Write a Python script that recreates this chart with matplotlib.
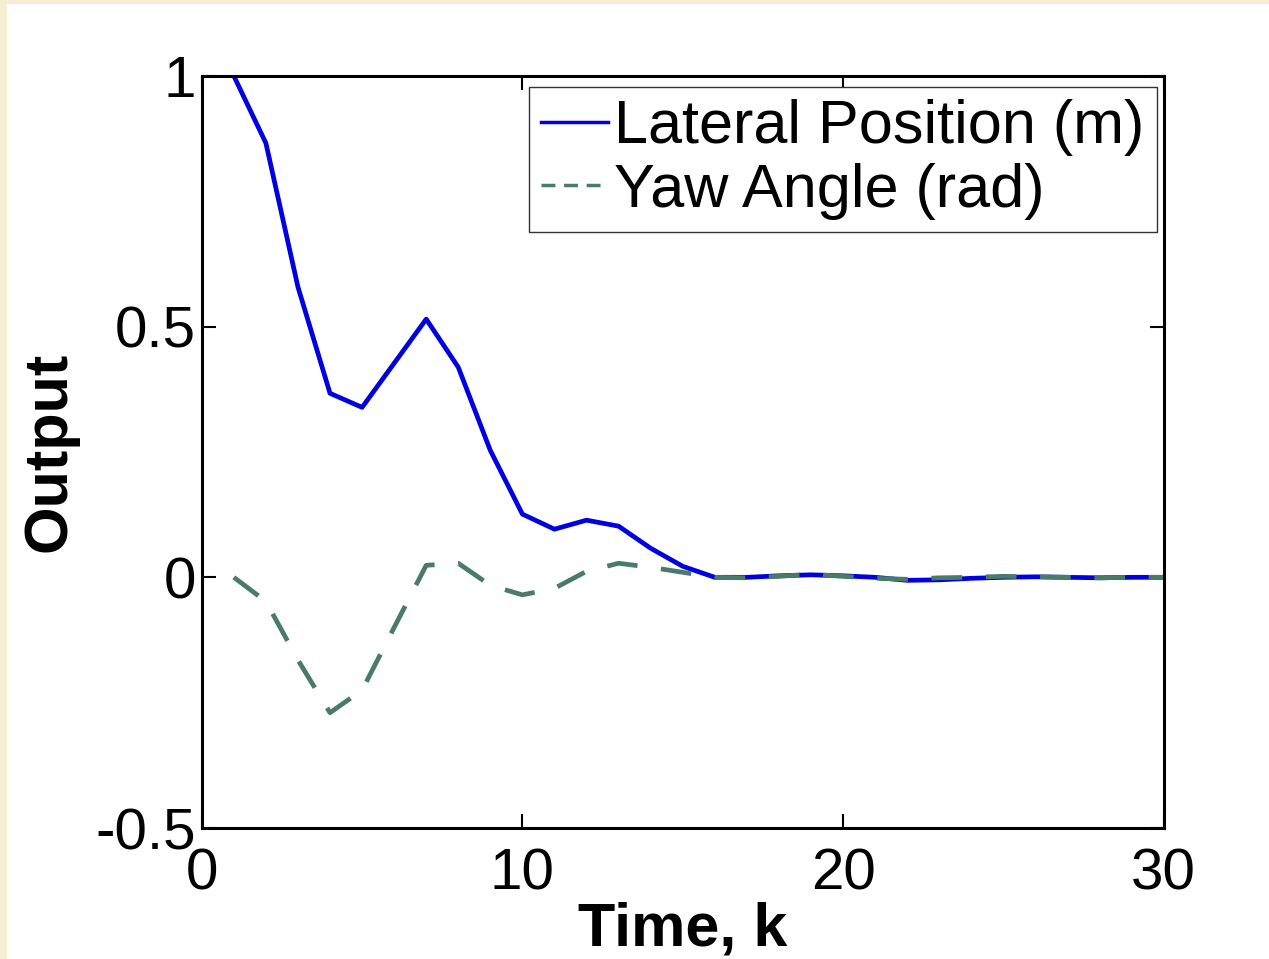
import matplotlib
matplotlib.use('Agg')
import matplotlib.pyplot as plt
from matplotlib.patches import Rectangle

# time steps k = 1..30
k = list(range(1, 31))
lateral = [1.0, 0.866, 0.579, 0.367, 0.339, 0.427, 0.515, 0.419, 0.253, 0.126,
           0.096, 0.114, 0.102, 0.058, 0.022, 0.0, 0.0, 0.003, 0.005, 0.003,
           0.0, -0.006, -0.005, -0.002, 0.0, 0.001, 0.0, -0.001, 0.0, 0.0]
yaw = [0.0, -0.048, -0.165, -0.27, -0.225, -0.1, 0.024, 0.028, -0.016, -0.035,
       -0.022, 0.012, 0.028, 0.02, 0.01, 0.0, -0.001, 0.002, 0.006, 0.002,
       -0.002, -0.004, -0.001, 0.0, 0.002, 0.001, 0.0, -0.001, 0.0, 0.0]

plt.rcParams['font.family'] = ['Liberation Sans', 'DejaVu Sans']

fig = plt.figure(figsize=(12.69, 9.59), dpi=100, facecolor='#F5EED2')
# white page area inside cream border
fig.patches.append(Rectangle((7/1269, 0), 1, 1 - 4/959, transform=fig.transFigure,
                             facecolor='white', edgecolor='none', zorder=-10))
ax = fig.add_axes([0.159, 0.1366, 0.758, 0.7842])

ax.plot(k, lateral, color='#0000E0', lw=3.4, label='Lateral Position (m)')
ax.plot(k, yaw, color='#4A7A68', lw=3.4, ls=(0, (6.5, 5)), label='Yaw Angle (rad)')

ax.set_xlim(0, 30)
ax.set_ylim(-0.5, 1)
ax.set_xticks([0, 10, 20, 30])
ax.set_yticks([-0.5, 0, 0.5, 1])
ax.set_yticklabels(['-0.5', '0', '0.5', '1'])
ax.tick_params(direction='in', length=10, width=1.5, labelsize=42,
               top=True, right=True)
ax.tick_params(axis='x', pad=14)
ax.tick_params(axis='y', pad=4)
for s in ax.spines.values():
    s.set_linewidth(2.2)

ax.set_xlabel('Time, k', fontsize=44, fontweight='bold', labelpad=0)
ax.set_ylabel('Output', fontsize=44, fontweight='bold', labelpad=12)

leg = ax.legend(loc='upper right', bbox_to_anchor=(0.993, 0.985), fontsize=44,
                handlelength=1.1, handletextpad=0.1, borderpad=0.2,
                labelspacing=0.1, borderaxespad=0.0, fancybox=False,
                framealpha=1)
leg.get_frame().set_edgecolor('#333333')
leg.get_frame().set_linewidth(1.0)
# shorter dashes for the legend sample, as in the original
leg.get_lines()[1].set_linestyle((0, (4, 2.5)))
leg.get_lines()[0].set_linewidth(2.5)
leg.get_lines()[1].set_linewidth(2.5)

fig.savefig('out.png', dpi=100, facecolor=fig.get_facecolor())
